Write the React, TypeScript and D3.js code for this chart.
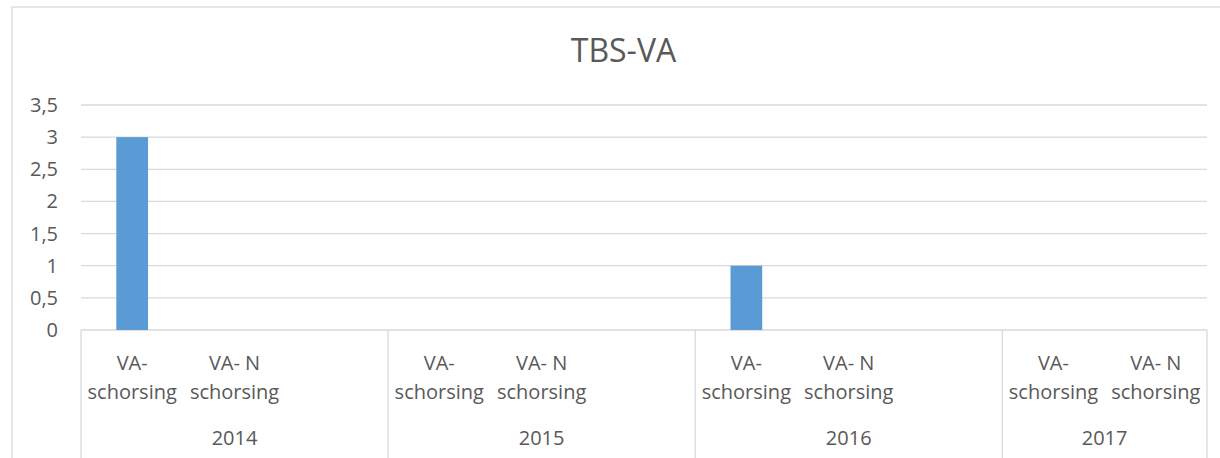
import React from "react";
import * as d3 from "d3";

const title = "TBS-VA";
const years = ["2014", "2015", "2016", "2017"];
// sub-categories per year (line 1 / line 2); empty string = blank slot
const subTop = [
  ["VA-", "VA- N", ""],
  ["VA-", "VA- N", ""],
  ["VA-", "VA- N", ""],
  ["VA-", "VA- N"],
];
const subBottom = [
  ["schorsing", "schorsing", ""],
  ["schorsing", "schorsing", ""],
  ["schorsing", "schorsing", ""],
  ["schorsing", "schorsing"],
];
const values = [
  [3, 0, 0],
  [0, 0, 0],
  [1, 0, 0],
  [0, 0],
];
const yTicks = [0, 0.5, 1, 1.5, 2, 2.5, 3, 3.5];

const W = 1220;
const H = 458;
const left = 81;
const right = 1207;
const top = 105;
const bottom = 330;
const textColor = "#595959";
const gridColor = "#d9d9d9";
const barColor = "#5b9bd5";
const font = "'Open Sans', sans-serif";
const fs = 20;

export default function App() {
  const cats: { year: number; sub: number; top: string; bot: string; v: number }[] = [];
  years.forEach((_, yi) =>
    subTop[yi].forEach((t, si) =>
      cats.push({ year: yi, sub: si, top: t, bot: subBottom[yi][si], v: values[yi][si] })
    )
  );
  const idx = cats.map((_, i) => i);
  const slot = d3.scaleBand<number>().domain(idx).range([left, right]).padding(0);
  const bar = d3
    .scaleBand<number>()
    .domain(idx)
    .range([left, right])
    .paddingInner(0.69)
    .paddingOuter(0.345);
  const y = d3.scaleLinear().domain([0, 3.5]).range([bottom, top]);
  const fmt = (v: number) => d3.format("")(v).replace(".", ",");

  // group boundaries
  const groupEdges: number[] = [left];
  const groupCenters: number[] = [];
  let start = 0;
  years.forEach((_, yi) => {
    const n = subTop[yi].length;
    const x0 = slot(start)!;
    const x1 = slot(start + n - 1)! + slot.bandwidth();
    groupEdges.push(x1);
    groupCenters.push((x0 + x1) / 2);
    start += n;
  });

  return (
    <svg
      width={W}
      height={H}
      style={{ position: "absolute", left: 0, top: 0, background: "#fff" }}
      fontFamily={font}
    >
      <rect x={12} y={7} width={W + 10} height={H + 10} fill="#fff" stroke={gridColor} strokeWidth={1.3} />
      <text x={623.5} y={62} textAnchor="middle" fontSize={32} fill={textColor}>
        {title}
      </text>
      {yTicks.map((t) => (
        <g key={t}>
          <line x1={left} x2={right} y1={y(t)} y2={y(t)} stroke={gridColor} strokeWidth={1.3} />
          <text
            x={58}
            y={y(t)}
            dy="0.35em"
            textAnchor="end"
            fontSize={fs}
            fill={textColor}
          >
            {fmt(t)}
          </text>
        </g>
      ))}
      {cats.map((c, i) =>
        c.v > 0 ? (
          <rect
            key={"b" + i}
            x={bar(i)}
            y={y(c.v)}
            width={bar.bandwidth()}
            height={y(0) - y(c.v)}
            fill={barColor}
          />
        ) : null
      )}
      {groupEdges.map((x, i) => (
        <line key={"s" + i} x1={x} x2={x} y1={bottom} y2={H + 5} stroke={gridColor} strokeWidth={1.3} />
      ))}
      {cats.map((c, i) => {
        const cx = slot(i)! + slot.bandwidth() / 2;
        return (
          <g key={"l" + i} fontSize={fs} fill={textColor} textAnchor="middle">
            <text x={cx} y={370}>{c.top}</text>
            <text x={cx} y={399}>{c.bot}</text>
          </g>
        );
      })}
      {years.map((yr, i) => (
        <text key={yr} x={groupCenters[i]} y={445} textAnchor="middle" fontSize={fs} fill={textColor}>
          {yr}
        </text>
      ))}
    </svg>
  );
}
